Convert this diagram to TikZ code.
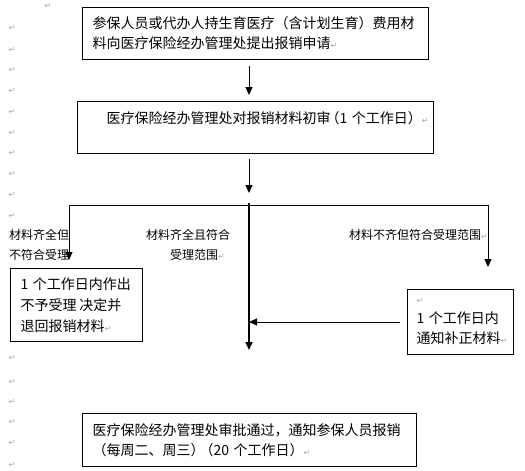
\documentclass[tikz,border=0pt]{standalone}
\usepackage{fontspec}
\setmainfont{Noto Sans CJK SC}
\newfontfamily\symfont{DejaVu Sans}
\usepackage{tikz}
\usetikzlibrary{arrows.meta}
\usetikzlibrary{positioning}
\newcommand \pmark {{\symfont\fontsize{8}{8}\selectfont\textcolor{gray!70}{↵}}}
\tikzstyle{proc}=[rectangle,draw=black,line width=1pt,anchor=north west,inner xsep=10pt,inner ysep=0pt,align=left,font=\fontsize{14}{20}\selectfont]
\tikzstyle{cond}=[anchor=north west,inner sep=0pt,align=left,font=\fontsize{12}{20}\selectfont]
\tikzstyle{pmk}=[inner sep=0pt,text=gray!70,font=\symfont\fontsize{8}{8}\selectfont]
\tikzstyle{arrow}=[-{Triangle[length=8pt,width=7pt]},line width=1pt]

\begin{document}
\begin{tikzpicture}[x=1pt,y=-1pt]
    \useasboundingbox (0,0) rectangle (525,471);
    % boxes
    \node[proc,text width=326pt,minimum height=52pt] at (82,7) (apply)
      {参保人员或代办人持生育医疗（含计划生育）费用材\\料向医疗保险经办管理处提出报销申请\pmark};
    \node[proc,inner xsep=5pt,text width=346pt,minimum height=52pt] at (77,101) (check)
      {\hspace*{24pt}\mbox{医疗保险经办管理处对报销材料初审\kern-5pt（1~个工作日）\pmark}\\ \mbox{}};
    \node[proc,text width=112pt,minimum height=73pt,font=\fontsize{14}{21}\selectfont] at (10,268) (reject)
      {1 个工作日内作出\\不予受理\kern3pt 决定并\\退回报销材料\pmark};
    \node[proc,inner xsep=9pt,text width=88pt,minimum height=65pt] at (407,289) (supply)
      {\pmark\\1 个工作日内\\通知补正材料\pmark};
    \node[proc,text width=314pt,minimum height=53pt] at (82,413) (approve)
      {医疗保险经办管理处审批通过，通知参保人员报销\\（每周二、周三）\kern-5pt（20 个工作日）\pmark};
    % branch labels
    \node[cond] at (9,229) (lblreject) {材料齐全但\\不符合受理};
    \node[cond] at (146,229) (lblaccept) {材料齐全且符合\\\hspace*{24pt}受理范围\pmark};
    \node[cond] at (349,229) (lblsupply) {材料不齐但符合受理范围\pmark};
    % paragraph marks
    \node[pmk] at (48,6) (marktop) {↵};
    \foreach \y in {28,50,70,91,112,133,153,174,195,216,358,382,402,422,443,465}
      \node[pmk] at (12,\y) (mark\y) {↵};
    % connectors
    \coordinate (split) at (249,205);
    \coordinate (lcorner) at (69,205);
    \coordinate (rcorner) at (488,205);
    \draw[arrow] ([yshift=-6pt]apply.south -| split) -- ([yshift=6pt]check.north -| split);
    \draw[arrow] ([yshift=-5pt]check.south -| split) -- ([yshift=12pt]split);
    \draw[line width=1pt] (lcorner) -- (rcorner);
    \draw[arrow] (lcorner) -- ([yshift=8pt]reject.north -| lcorner);
    \draw[arrow] (rcorner) -- ([yshift=22pt]supply.north -| rcorner);
    \draw[arrow,line width=1.5pt] ([yshift=2pt]split) -- ([yshift=63pt]approve.north -| split);
    \draw[arrow] ([xshift=-7pt]supply.west) -- (supply.west -| split);
\end{tikzpicture}
\end{document}
